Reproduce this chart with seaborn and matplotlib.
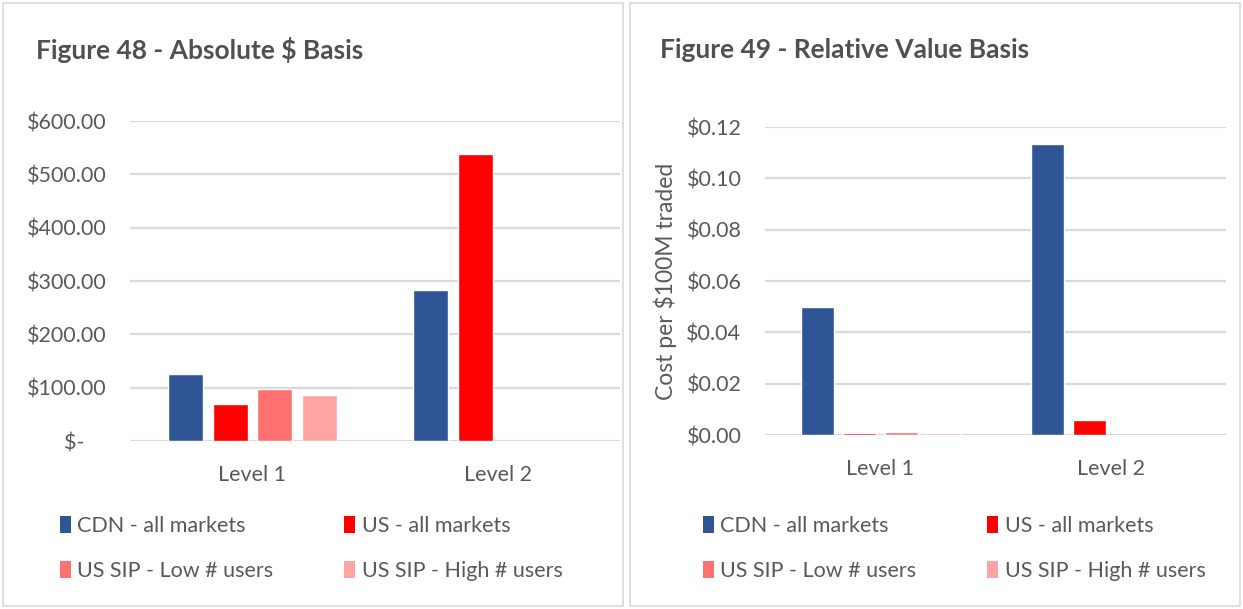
import matplotlib.pyplot as plt
import matplotlib.ticker as mticker
from matplotlib.patches import Patch, Rectangle
import seaborn as sns
import pandas as pd
import numpy as np

# Data
levels = ['Level 1', 'Level 2']
series = ['CDN - all markets', 'US - all markets', 'US SIP - Low # users', 'US SIP - High # users']
colors = ['#2F5597', '#FF0000', '#FF7171', '#FFA3A3']

absolute_cdn = [125, 284]
absolute_us = [70, 538]
absolute_sip_low = [97, np.nan]
absolute_sip_high = [86, np.nan]

relative_cdn = [0.050, 0.1135]
relative_us = [0.0008, 0.006]
relative_sip_low = [0.0010, np.nan]
relative_sip_high = [0.0007, np.nan]


def long_table(cols):
    rows = []
    for name, vals in zip(series, cols):
        for lvl, v in zip(levels, vals):
            rows.append({'Level': lvl, 'Series': name, 'Value': v})
    return pd.DataFrame(rows)


df_abs = long_table([absolute_cdn, absolute_us, absolute_sip_low, absolute_sip_high])
df_rel = long_table([relative_cdn, relative_us, relative_sip_low, relative_sip_high])

sns.set_style("white")
plt.rcParams['font.family'] = ['Lato', 'DejaVu Sans']
text_col = '#595959'
grid_col = '#D9D9D9'

W, H = 1243, 609
fig = plt.figure(figsize=(W / 100, H / 100), dpi=100)


def fx(px):
    return px / W


def fy(py):
    return 1 - py / H


# panel borders
for x0, x1 in [(3, 623), (630, 1240)]:
    fig.patches.append(Rectangle((fx(x0), fy(606)), fx(x1 - x0), (603) / H,
                                 transform=fig.transFigure, fill=False,
                                 edgecolor=grid_col, linewidth=1.2))


def draw_panel(df, box, ymax, step, fmt, title, title_x, legend_x, ylabel=None):
    left, top, right, bottom = box
    ax = fig.add_axes([fx(left), fy(bottom), fx(right - left), (bottom - top) / H])
    sns.barplot(data=df, x='Level', y='Value', hue='Series', hue_order=series,
                palette=colors, errorbar=None, width=0.73, gap=0.22,
                saturation=1, legend=False, ax=ax, zorder=3)
    ax.set_ylim(0, ymax)
    ax.set_yticks(np.arange(0, ymax + step / 2, step))
    ax.yaxis.set_major_formatter(mticker.FuncFormatter(fmt))
    ax.grid(axis='y', color=grid_col, linewidth=1.6, zorder=0)
    ax.set_axisbelow(True)
    for s in ax.spines.values():
        s.set_visible(False)
    ax.tick_params(axis='both', length=0, labelsize=15.5, colors=text_col)
    ax.tick_params(axis='x', pad=17)
    ax.tick_params(axis='y', pad=17)
    ax.set_xlabel('')
    ax.set_ylabel(ylabel if ylabel else '', fontsize=16.5, color=text_col, labelpad=7)
    fig.text(fx(title_x), fy(50), title, fontsize=19, fontweight='bold',
             color='#505050', va='center', ha='left')
    # legend is filled row by row in the reference
    order = [0, 2, 1, 3]
    handles = [Patch(facecolor=colors[i], edgecolor='none') for i in order]
    labels = [series[i] for i in order]
    fig.legend(handles, labels, loc='upper left',
               bbox_to_anchor=(fx(legend_x), fy(516)), ncol=2,
               frameon=False, fontsize=15.5, labelcolor=text_col,
               handlelength=0.5, handleheight=0.8, handletextpad=0.3,
               columnspacing=3.3, labelspacing=1.15, borderpad=0,
               borderaxespad=0)
    return ax


def fmt_abs(v, pos):
    if abs(v) < 1e-9:
        return '$-    '
    return f'${v:,.2f}'


def fmt_rel(v, pos):
    return f'${v:.2f}'


draw_panel(df_abs, (130, 121, 620, 441), 600, 100, fmt_abs,
           'Figure 48 - Absolute $ Basis', 36, 60)
draw_panel(df_rel, (765, 127, 1226, 435), 0.12, 0.02, fmt_rel,
           'Figure 49 - Relative Value Basis', 660, 703,
           ylabel='Cost per $100M traded')

fig.savefig('out.png', dpi=100)
